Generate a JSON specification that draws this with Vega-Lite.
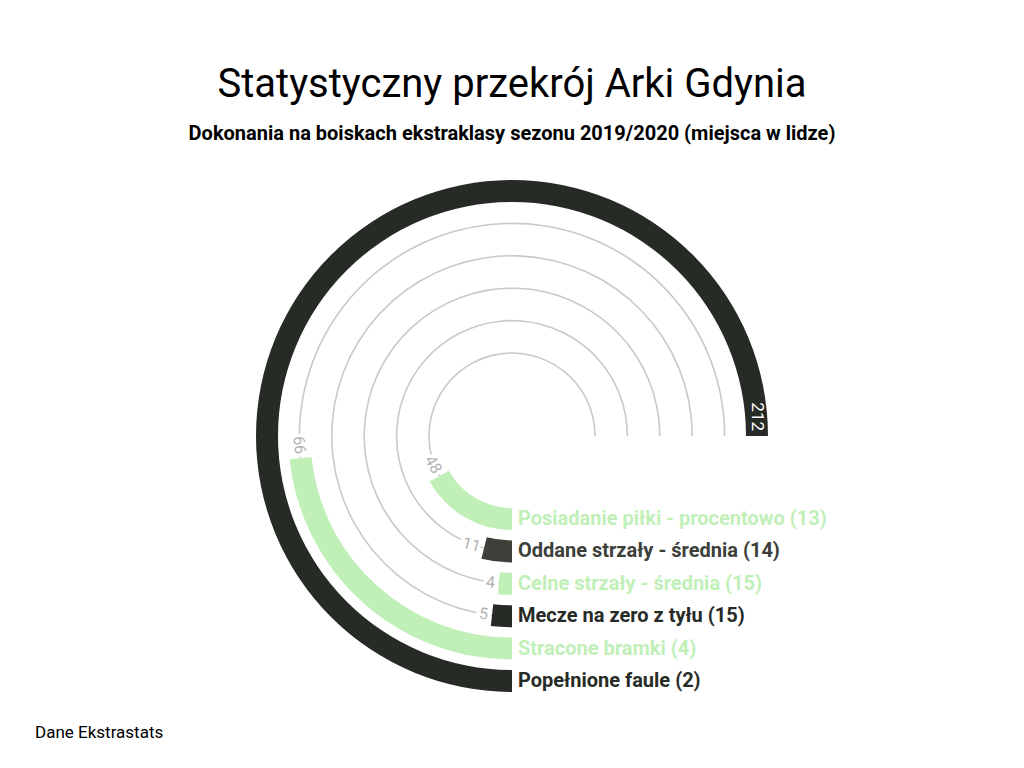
{
  "$schema": "https://vega.github.io/schema/vega-lite/v6.json",
  "padding": {"top": 65, "left": 0, "right": 0, "bottom": 0},
  "title": {
    "text": "Statystyczny przekrój Arki Gdynia",
    "subtitle": "Dokonania na boiskach ekstraklasy sezonu 2019/2020 (miejsca w lidze)",
    "anchor": "middle",
    "font": "Roboto",
    "fontSize": 40,
    "fontWeight": "normal",
    "color": "#000000",
    "subtitleFont": "Roboto",
    "subtitleFontSize": 20,
    "subtitleFontWeight": "bold",
    "subtitleColor": "#000000",
    "subtitlePadding": 19,
    "offset": 18
  },
  "config": {"view": {"stroke": null}, "font": "Roboto"},
  "vconcat": [
    {
      "width": 1024,
      "height": 548,
      "title": {
        "text": "Dane Ekstrastats",
        "orient": "bottom",
        "anchor": "start",
        "frame": "group",
        "font": "Roboto",
        "fontSize": 17,
        "fontWeight": "normal",
        "color": "#000000",
        "offset": 15,
        "dx": 35
      },
      "data": {
        "values": [
          {"label": "Posiadanie piłki - procentowo (13)", "value": 48},
          {"label": "Oddane strzały - średnia (14)", "value": 11},
          {"label": "Celne strzały - średnia (15)", "value": 4},
          {"label": "Mecze na zero z tyłu (15)", "value": 5},
          {"label": "Stracone bramki (4)", "value": 66},
          {"label": "Popełnione faule (2)", "value": 212}
        ]
      },
      "encoding": {
        "radius": {
          "field": "label",
          "type": "nominal",
          "scale": {
            "type": "point",
            "padding": 0,
            "domain": [
              "Posiadanie piłki - procentowo (13)",
              "Oddane strzały - średnia (14)",
              "Celne strzały - średnia (15)",
              "Mecze na zero z tyłu (15)",
              "Stracone bramki (4)",
              "Popełnione faule (2)"
            ],
            "range": [83, 245]
          },
          "legend": null
        }
      },
      "layer": [
        {
          "mark": {"type": "arc", "color": "#c9c9c9", "radiusOffset": 0.8, "radius2Offset": -0.8},
          "encoding": {
            "theta": {
              "field": "value",
              "type": "quantitative",
              "stack": null,
              "scale": {"domain": [0, 212], "range": [3.14159265, 7.85398163]}
            },
            "theta2": {"datum": 212},
            "radius2": {"field": "label"}
          }
        },
        {
          "transform": [{"filter": "datum.value < 212"}],
          "mark": {
            "type": "text",
            "align": "right",
            "baseline": "middle",
            "dx": -4,
            "font": "Roboto",
            "fontSize": 16,
            "fill": "#ffffff",
            "stroke": "#ffffff",
            "strokeWidth": 7
          },
          "encoding": {
            "theta": {"field": "value", "type": "quantitative", "stack": null},
            "angle": {"field": "value", "type": "quantitative", "scale": {"domain": [0, 212], "range": [0, 270]}},
            "text": {"field": "value", "type": "quantitative"}
          }
        },
        {
          "mark": {"type": "arc", "radiusOffset": 11, "radius2Offset": -11},
          "encoding": {
            "theta": {"field": "value", "type": "quantitative", "stack": null},
            "theta2": {"datum": 0},
            "radius2": {"field": "label"},
            "color": {
              "field": "label",
              "type": "nominal",
              "legend": null,
              "scale": {
                "domain": [
                  "Posiadanie piłki - procentowo (13)",
                  "Oddane strzały - średnia (14)",
                  "Celne strzały - średnia (15)",
                  "Mecze na zero z tyłu (15)",
                  "Stracone bramki (4)",
                  "Popełnione faule (2)"
                ],
                "range": ["#c1efb8", "#3c4038", "#c1efb8", "#272b26", "#c1efb8", "#272b26"]
              }
            }
          }
        },
        {
          "transform": [{"filter": "datum.value < 212"}],
          "mark": {
            "type": "text",
            "align": "right",
            "baseline": "middle",
            "dx": -4,
            "font": "Roboto",
            "fontSize": 16,
            "color": "#b3b3b3"
          },
          "encoding": {
            "theta": {"field": "value", "type": "quantitative", "stack": null},
            "angle": {"field": "value", "type": "quantitative"},
            "text": {"field": "value", "type": "quantitative"}
          }
        },
        {
          "transform": [{"filter": "datum.value >= 212"}],
          "mark": {
            "type": "text",
            "align": "right",
            "baseline": "middle",
            "angle": 90,
            "dx": -5,
            "font": "Roboto",
            "fontSize": 17,
            "color": "#ffffff"
          },
          "encoding": {
            "theta": {"field": "value", "type": "quantitative", "stack": null},
            "text": {"field": "value", "type": "quantitative"}
          }
        },
        {
          "mark": {
            "type": "text",
            "align": "left",
            "baseline": "middle",
            "dx": 6,
            "font": "Roboto",
            "fontSize": 20,
            "fontWeight": "bold"
          },
          "encoding": {
            "theta": {"datum": 0},
            "text": {"field": "label", "type": "nominal"},
            "color": {"field": "label", "type": "nominal", "legend": null}
          }
        }
      ]
    }
  ]
}
